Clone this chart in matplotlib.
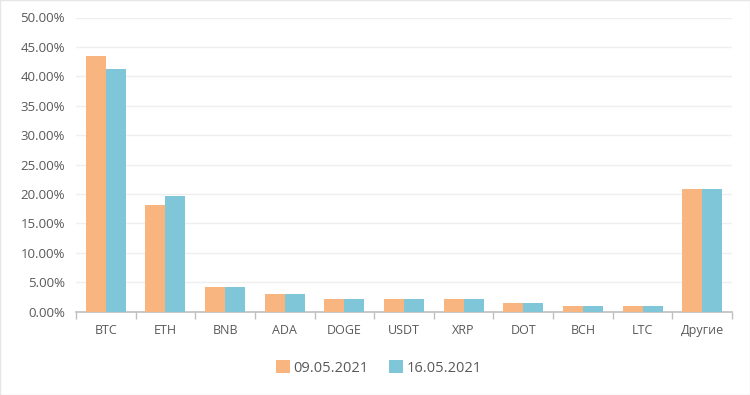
import numpy as np
import matplotlib.pyplot as plt
from matplotlib.ticker import PercentFormatter, FixedLocator, NullFormatter

# data
coins = ['BTC', 'ETH', 'BNB', 'ADA', 'DOGE', 'USDT', 'XRP', 'DOT', 'BCH', 'LTC', 'Другие']
share_0905 = [43.5, 18.2, 4.15, 2.95, 2.2, 2.2, 2.15, 1.5, 1.05, 1.0, 20.9]
share_1605 = [41.3, 19.7, 4.15, 2.95, 2.2, 2.2, 2.1, 1.45, 1.05, 1.0, 20.9]
labels = ['09.05.2021', '16.05.2021']

plt.rcParams['font.family'] = ['Open Sans', 'DejaVu Sans']

fig = plt.figure(figsize=(7.5, 3.95), dpi=100)
ax = fig.add_axes([76/750, 83.3/395, 656/750, 294.2/395])

x = np.arange(len(coins))
w = 0.335
ax.bar(x - w/2, share_0905, w, color='#F9B57F', label=labels[0], zorder=3)
ax.bar(x + w/2, share_1605, w, color='#80C6D9', label=labels[1], zorder=3)

ax.set_xlim(-0.5, len(coins) - 0.5)
ax.set_ylim(0, 50)
ax.set_yticks(np.arange(0, 50.1, 5))
ax.yaxis.set_major_formatter(PercentFormatter(decimals=2))
ax.grid(axis='y', color='#efefef', lw=1, zorder=0)

ax.set_xticks(x)
ax.set_xticklabels(coins)
ax.xaxis.set_minor_locator(FixedLocator(np.arange(-0.5, len(coins), 1)))
ax.xaxis.set_minor_formatter(NullFormatter())
ax.tick_params(axis='x', which='major', length=0, pad=9, labelsize=9, labelcolor='#595959')
ax.tick_params(axis='x', which='minor', length=5, color='#bfbfbf', width=1)
ax.tick_params(axis='y', length=0, pad=8, labelsize=9.5, labelcolor='#595959')

for s in ['top', 'right', 'left']:
    ax.spines[s].set_visible(False)
ax.spines['bottom'].set_color('#bfbfbf')
ax.spines['bottom'].set_linewidth(1.2)

fig.legend(loc='center', bbox_to_anchor=(0.505, 1 - 368/395), ncol=2, frameon=False,
           fontsize=10.5, labelcolor='#595959', handlelength=0.95, handleheight=0.95,
           columnspacing=1.4, handletextpad=0.25)

fig.patches.append(plt.Rectangle((0, 0), 1, 1, transform=fig.transFigure,
                                 fill=False, edgecolor='#e6e6e6', lw=1))

plt.savefig('out.png', dpi=100)
